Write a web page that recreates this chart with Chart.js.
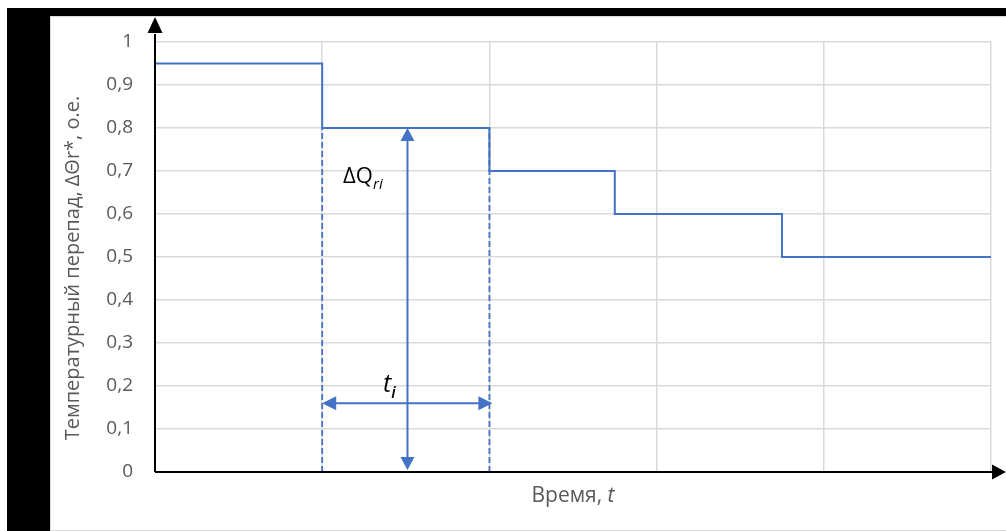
<!DOCTYPE html>
<html>
<head>
<meta charset="utf-8">
<script src="https://cdn.jsdelivr.net/npm/chart.js@4"></script>
<style>
  html, body { margin: 0; padding: 0; background: #fff; }
  body { width: 1006px; height: 531px; position: relative; overflow: hidden; }
  #bar-top { position: absolute; left: 7px; top: 8px; right: 0; height: 8px; background: #000; }
  #bar-left { position: absolute; left: 7px; top: 8px; width: 43px; bottom: 0; background: #000; }
  #frame { position: absolute; left: 50px; top: 16px; width: 970px; height: 513px; border: 1px solid #d9d9d9; background: #fff; }
  #chart { position: absolute; left: 50px; top: 17px; }
</style>
</head>
<body>
<div id="bar-top"></div>
<div id="bar-left"></div>
<div id="frame"></div>
<canvas id="chart" width="956" height="514"></canvas>
<script>
// step curve of the temperature drop
const stepX = [0, 1, 2, 2.75, 3.75, 5];
const stepY = [0.95, 0.8, 0.7, 0.6, 0.5, 0.5];

// dashed guides for one interval t_i
const guideX = [1, 2];
const guideTop = 0.8;

// dimension arrows
const vArrowX = 1.51;
const vArrowY = [0, 0.8];
const hArrowY = 0.16;
const hArrowX = [1, 2];

// axis ranges and tick labels
const yTicks = [0, 0.1, 0.2, 0.3, 0.4, 0.5, 0.6, 0.7, 0.8, 0.9, 1];
const xMax = 5;

const yTitle = "Температурный перепад, ΔΘr*, о.е.";
const xTitle = "Время, ";
const blue = "#4472c4";
const grey = "#595959";
const font = "'Open Sans', sans-serif";

function arrowHead(ctx, x, y, dir, len, half) {
  // dir: unit vector the tip points to
  const [dx, dy] = dir;
  ctx.beginPath();
  ctx.moveTo(x, y);
  ctx.lineTo(x - dx * len - dy * half, y - dy * len + dx * half);
  ctx.lineTo(x - dx * len + dy * half, y - dy * len - dx * half);
  ctx.closePath();
  ctx.fill();
}

const extras = {
  id: "extras",
  afterDatasetsDraw(chart) {
    const ctx = chart.ctx;
    const xs = chart.scales.x, ys = chart.scales.y;
    const area = chart.chartArea;
    ctx.save();

    // dimension arrows
    ctx.strokeStyle = blue;
    ctx.fillStyle = blue;
    ctx.lineWidth = 2;
    const vx = xs.getPixelForValue(vArrowX);
    const vy0 = ys.getPixelForValue(vArrowY[0]);
    const vy1 = ys.getPixelForValue(vArrowY[1]);
    ctx.beginPath();
    ctx.moveTo(vx, vy0 - 8);
    ctx.lineTo(vx, vy1 + 8);
    ctx.stroke();
    arrowHead(ctx, vx, vy1, [0, -1], 13, 7);
    arrowHead(ctx, vx, vy0 - 2, [0, 1], 13, 7);

    const hy = ys.getPixelForValue(hArrowY);
    const hx0 = xs.getPixelForValue(hArrowX[0]);
    const hx1 = xs.getPixelForValue(hArrowX[1]);
    ctx.beginPath();
    ctx.moveTo(hx0 + 8, hy);
    ctx.lineTo(hx1 - 8, hy);
    ctx.stroke();
    arrowHead(ctx, hx0, hy, [-1, 0], 14, 7);
    arrowHead(ctx, hx1 + 3, hy, [1, 0], 14, 7);

    // labels
    ctx.fillStyle = "#000";
    ctx.textBaseline = "alphabetic";
    ctx.textAlign = "left";
    let lx = xs.getPixelForValue(1.125), ly = ys.getPixelForValue(0.672);
    ctx.font = "22px " + font;
    ctx.fillText("ΔQ", lx, ly);
    let w = ctx.measureText("ΔQ").width;
    ctx.font = "italic 15px " + font;
    ctx.fillText("ri", lx + w, ly + 6);

    lx = xs.getPixelForValue(1.364); ly = ys.getPixelForValue(0.186);
    ctx.font = "italic 25px " + font;
    ctx.fillText("t", lx, ly);
    w = ctx.measureText("t").width;
    ctx.font = "italic 600 16px " + font;
    ctx.fillText("i", lx + w, ly + 6);

    // axes with arrows
    ctx.strokeStyle = "#000";
    ctx.fillStyle = "#000";
    ctx.lineWidth = 2;
    ctx.beginPath();
    ctx.moveTo(area.left, area.bottom);
    ctx.lineTo(area.left, area.top - 8);
    ctx.moveTo(area.left, area.bottom);
    ctx.lineTo(area.right + 4, area.bottom);
    ctx.stroke();
    arrowHead(ctx, area.left, area.top - 25, [0, -1], 16, 7.5);
    arrowHead(ctx, area.right + 15, area.bottom, [1, 0], 14, 7.5);

    // axis titles
    ctx.fillStyle = grey;
    ctx.font = "21px " + font;
    ctx.textAlign = "left";
    const tw = ctx.measureText(xTitle).width;
    ctx.font = "italic 21px " + font;
    const iw = ctx.measureText("t").width;
    const cx = (area.left + area.right) / 2;
    ctx.font = "21px " + font;
    ctx.fillText(xTitle, cx - (tw + iw) / 2, area.bottom + 30);
    ctx.font = "italic 21px " + font;
    ctx.fillText("t", cx - (tw + iw) / 2 + tw, area.bottom + 30);

    ctx.translate(23, (area.top + area.bottom) / 2 + 11);
    ctx.rotate(-Math.PI / 2);
    ctx.font = "20px " + font;
    ctx.textAlign = "center";
    ctx.textBaseline = "middle";
    ctx.fillText(yTitle, 0, 0);
    ctx.restore();
  }
};

const datasets = [{
  data: stepX.map((x, i) => ({ x: x, y: stepY[i] })),
  stepped: true,
  borderColor: blue,
  borderWidth: 2,
  pointRadius: 0,
  fill: false
}];
guideX.forEach(g => {
  datasets.push({
    data: [{ x: g, y: 0 }, { x: g, y: guideTop }],
    borderColor: blue,
    borderWidth: 1.8,
    borderDash: [6, 3],
    pointRadius: 0,
    fill: false
  });
});

new Chart(document.getElementById("chart"), {
  type: "line",
  data: { datasets: datasets },
  options: {
    responsive: false,
    animation: false,
    devicePixelRatio: 1,
    layout: { padding: { top: 25, right: 15, left: 0, bottom: 0 } },
    plugins: { legend: { display: false }, tooltip: { enabled: false } },
    scales: {
      x: {
        type: "linear",
        min: 0,
        max: xMax,
        ticks: { display: false, stepSize: 1 },
        grid: { color: "#d9d9d9", lineWidth: 1.5, drawTicks: false },
        border: { display: false },
        afterFit: s => { s.height = 59; s.paddingLeft = 0; s.paddingRight = 0; }
      },
      y: {
        min: yTicks[0],
        max: yTicks[yTicks.length - 1],
        afterBuildTicks: s => { s.ticks = yTicks.map(v => ({ value: v })); },
        ticks: {
          padding: 22,
          color: grey,
          font: { family: "Open Sans", size: 19 },
          callback: v => String(+v.toFixed(1)).replace(".", ",")
        },
        grid: { color: "#d9d9d9", lineWidth: 1.5, drawTicks: false },
        border: { display: false },
        afterFit: s => { s.width = 105; s.paddingTop = 0; s.paddingBottom = 0; }
      }
    }
  },
  plugins: [extras]
});
</script>
</body>
</html>
